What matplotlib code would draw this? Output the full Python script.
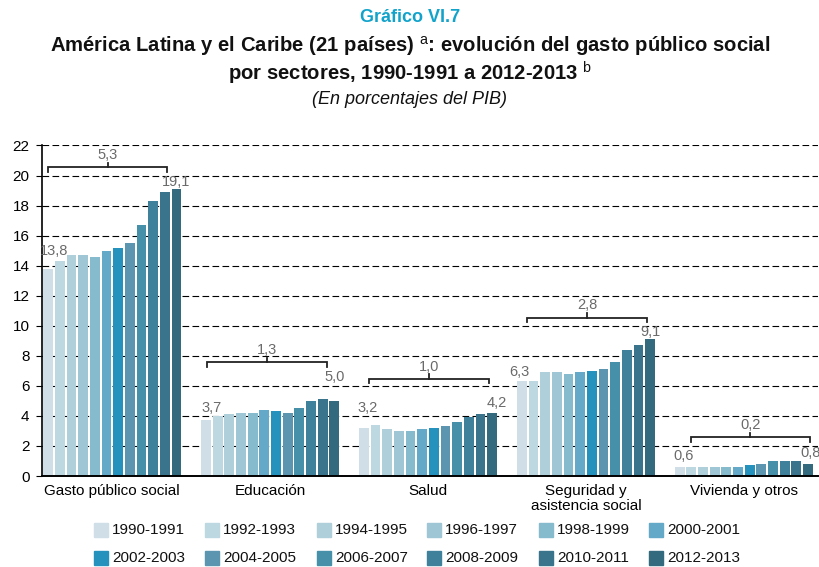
import matplotlib
matplotlib.use("Agg")
import matplotlib.pyplot as plt
from matplotlib.patches import Rectangle
import numpy as np

plt.rcParams["font.family"] = ["Liberation Sans", "DejaVu Sans"]
plt.rcParams["mathtext.fontset"] = "custom"
plt.rcParams["mathtext.rm"] = "Liberation Sans"

# ---- data -------------------------------------------------------------
sectors = ["Gasto público social", "Educación", "Salud",
           "Seguridad y\nasistencia social", "Vivienda y otros"]
periods = ["1990-1991", "1992-1993", "1994-1995", "1996-1997", "1998-1999",
           "2000-2001", "2002-2003", "2004-2005", "2006-2007", "2008-2009",
           "2010-2011", "2012-2013"]
gasto_total = [13.8, 14.3, 14.7, 14.7, 14.6, 15.0, 15.2, 15.5, 16.7, 18.3, 18.9, 19.1]
educacion = [3.7, 4.0, 4.1, 4.2, 4.2, 4.4, 4.3, 4.2, 4.5, 5.0, 5.1, 5.0]
salud = [3.2, 3.4, 3.1, 3.0, 3.0, 3.1, 3.2, 3.3, 3.6, 3.9, 4.1, 4.2]
seguridad = [6.3, 6.3, 6.9, 6.9, 6.8, 6.9, 7.0, 7.1, 7.6, 8.4, 8.7, 9.1]
vivienda = [0.6, 0.6, 0.6, 0.6, 0.6, 0.6, 0.7, 0.8, 1.0, 1.0, 1.0, 0.8]
yticks = list(range(0, 23, 2))

series_by_sector = [gasto_total, educacion, salud, seguridad, vivienda]

# ---- styling ----------------------------------------------------------
colors = ["#cfdee7", "#bed8e1", "#afcfdb", "#9ec6d5", "#86bbcd", "#64a9c8",
          "#2592bd", "#5b95af", "#4690a9", "#3f819b", "#39738c", "#336a7e"]
label_gray = "#6a6a6a"

fig = plt.figure(figsize=(8.2, 5.67), dpi=100)
ax = fig.add_axes([42 / 820, 91 / 567, 776 / 820, 330.5 / 567])

n_sec = len(sectors)
n_per = len(periods)
step = 11.64 / 157.5
offsets = (np.arange(n_per) - (n_per - 1) / 2) * step
xc = np.arange(n_sec)

data = np.array(series_by_sector)  # sectors x periods
for j in range(n_per):
    ax.bar(xc + offsets[j], data[:, j], width=step * 0.84,
           color=colors[j], zorder=2, linewidth=0)

ax.set_xlim(-0.445, 4.47)
ax.set_ylim(0, 22)
ax.set_yticks(yticks)
ax.set_yticklabels([str(t) for t in yticks], fontsize=11)
ax.tick_params(axis="y", length=4, width=0.8, pad=5, color="black")
ax.set_xticks(xc)
ax.set_xticklabels(sectors, fontsize=11, linespacing=1.05)
ax.tick_params(axis="x", length=0, pad=6)

ax.yaxis.grid(True, linestyle=(0, (6, 3)), color="black", linewidth=0.8)
ax.set_axisbelow(True)
for s in ["top", "right"]:
    ax.spines[s].set_visible(False)
ax.spines["left"].set_linewidth(1.2)
ax.spines["bottom"].set_linewidth(1.4)
ax.spines["bottom"].set_zorder(3)


def fmt(v):
    return f"{v:.1f}".replace(".", ",")


# first/last value labels: offsets in points (dx, dy) from the bar top
first_off = [(4, 8), (4, 4), (3, 9), (-2, 2), (3, 3)]
last_off = [(0, 0), (0, 12), (3, 2), (0, 0), (2, 3)]
for i, vals in enumerate(series_by_sector):
    for j, off in ((0, first_off[i]), (n_per - 1, last_off[i])):
        ax.annotate(fmt(vals[j]), (xc[i] + offsets[j], vals[j]),
                    xytext=off, textcoords="offset points",
                    ha="center", va="bottom", fontsize=10.5,
                    color=label_gray, zorder=4, annotation_clip=False)

# change brackets above each group
bracket_y = [20.55, 7.58, 6.47, 10.55, 2.57]
bracket_span = [(-0.406, 0.349), (-0.397, 0.359), (-0.372, 0.384),
                (-0.370, 0.389), (-0.337, 0.419)]
tick_h = 0.3
for i, vals in enumerate(series_by_sector):
    x0 = xc[i] + bracket_span[i][0]
    x1 = xc[i] + bracket_span[i][1]
    yb = bracket_y[i]
    ax.plot([x0, x0, x1, x1], [yb - tick_h, yb, yb, yb - tick_h],
            color="#222222", lw=1.3, zorder=4, clip_on=False,
            solid_joinstyle="miter")
    xm = (x0 + x1) / 2
    ax.plot([xm, xm], [yb, yb + tick_h], color="#222222", lw=1.3,
            zorder=4, clip_on=False)
    ax.text(xm, yb + 0.35, fmt(vals[-1] - vals[0]), ha="center",
            va="bottom", fontsize=10.5, color=label_gray, zorder=4)

# titles
fig.text(0.5, 1 - 17 / 567, "Gráfico VI.7", ha="center", va="center",
         fontsize=13, fontweight="bold", color="#12a3cb")
fig.text(0.5, 1 - 46 / 567,
         "América Latina y el Caribe (21 países) $^{\\mathrm{a}}$: "
         "evolución del gasto público social",
         ha="center", va="center", fontsize=14.6, fontweight="bold",
         color="#111111")
fig.text(0.5, 1 - 73 / 567,
         "por sectores, 1990-1991 a 2012-2013 $^{\\mathrm{b}}$",
         ha="center", va="center", fontsize=14.6, fontweight="bold",
         color="#111111")
fig.text(0.5, 1 - 99 / 567, "(En porcentajes del PIB)", ha="center",
         va="center", fontsize=13, style="italic", color="#111111")

# legend: two rows of six swatches
leg_x = [94, 205, 317, 427, 539, 649]
leg_y = [530, 558]
sw = 14
for k, (lab, col) in enumerate(zip(periods, colors)):
    r, c = divmod(k, 6)
    px, py = leg_x[c], leg_y[r]
    fig.patches.append(Rectangle((px / 820, (567 - py - sw / 2) / 567),
                                 sw / 820, sw / 567, color=col,
                                 transform=fig.transFigure, figure=fig))
    fig.text((px + sw + 4) / 820, 1 - py / 567, lab, ha="left",
             va="center", fontsize=11, color="#111111")

fig.savefig("out.png", dpi=100)
